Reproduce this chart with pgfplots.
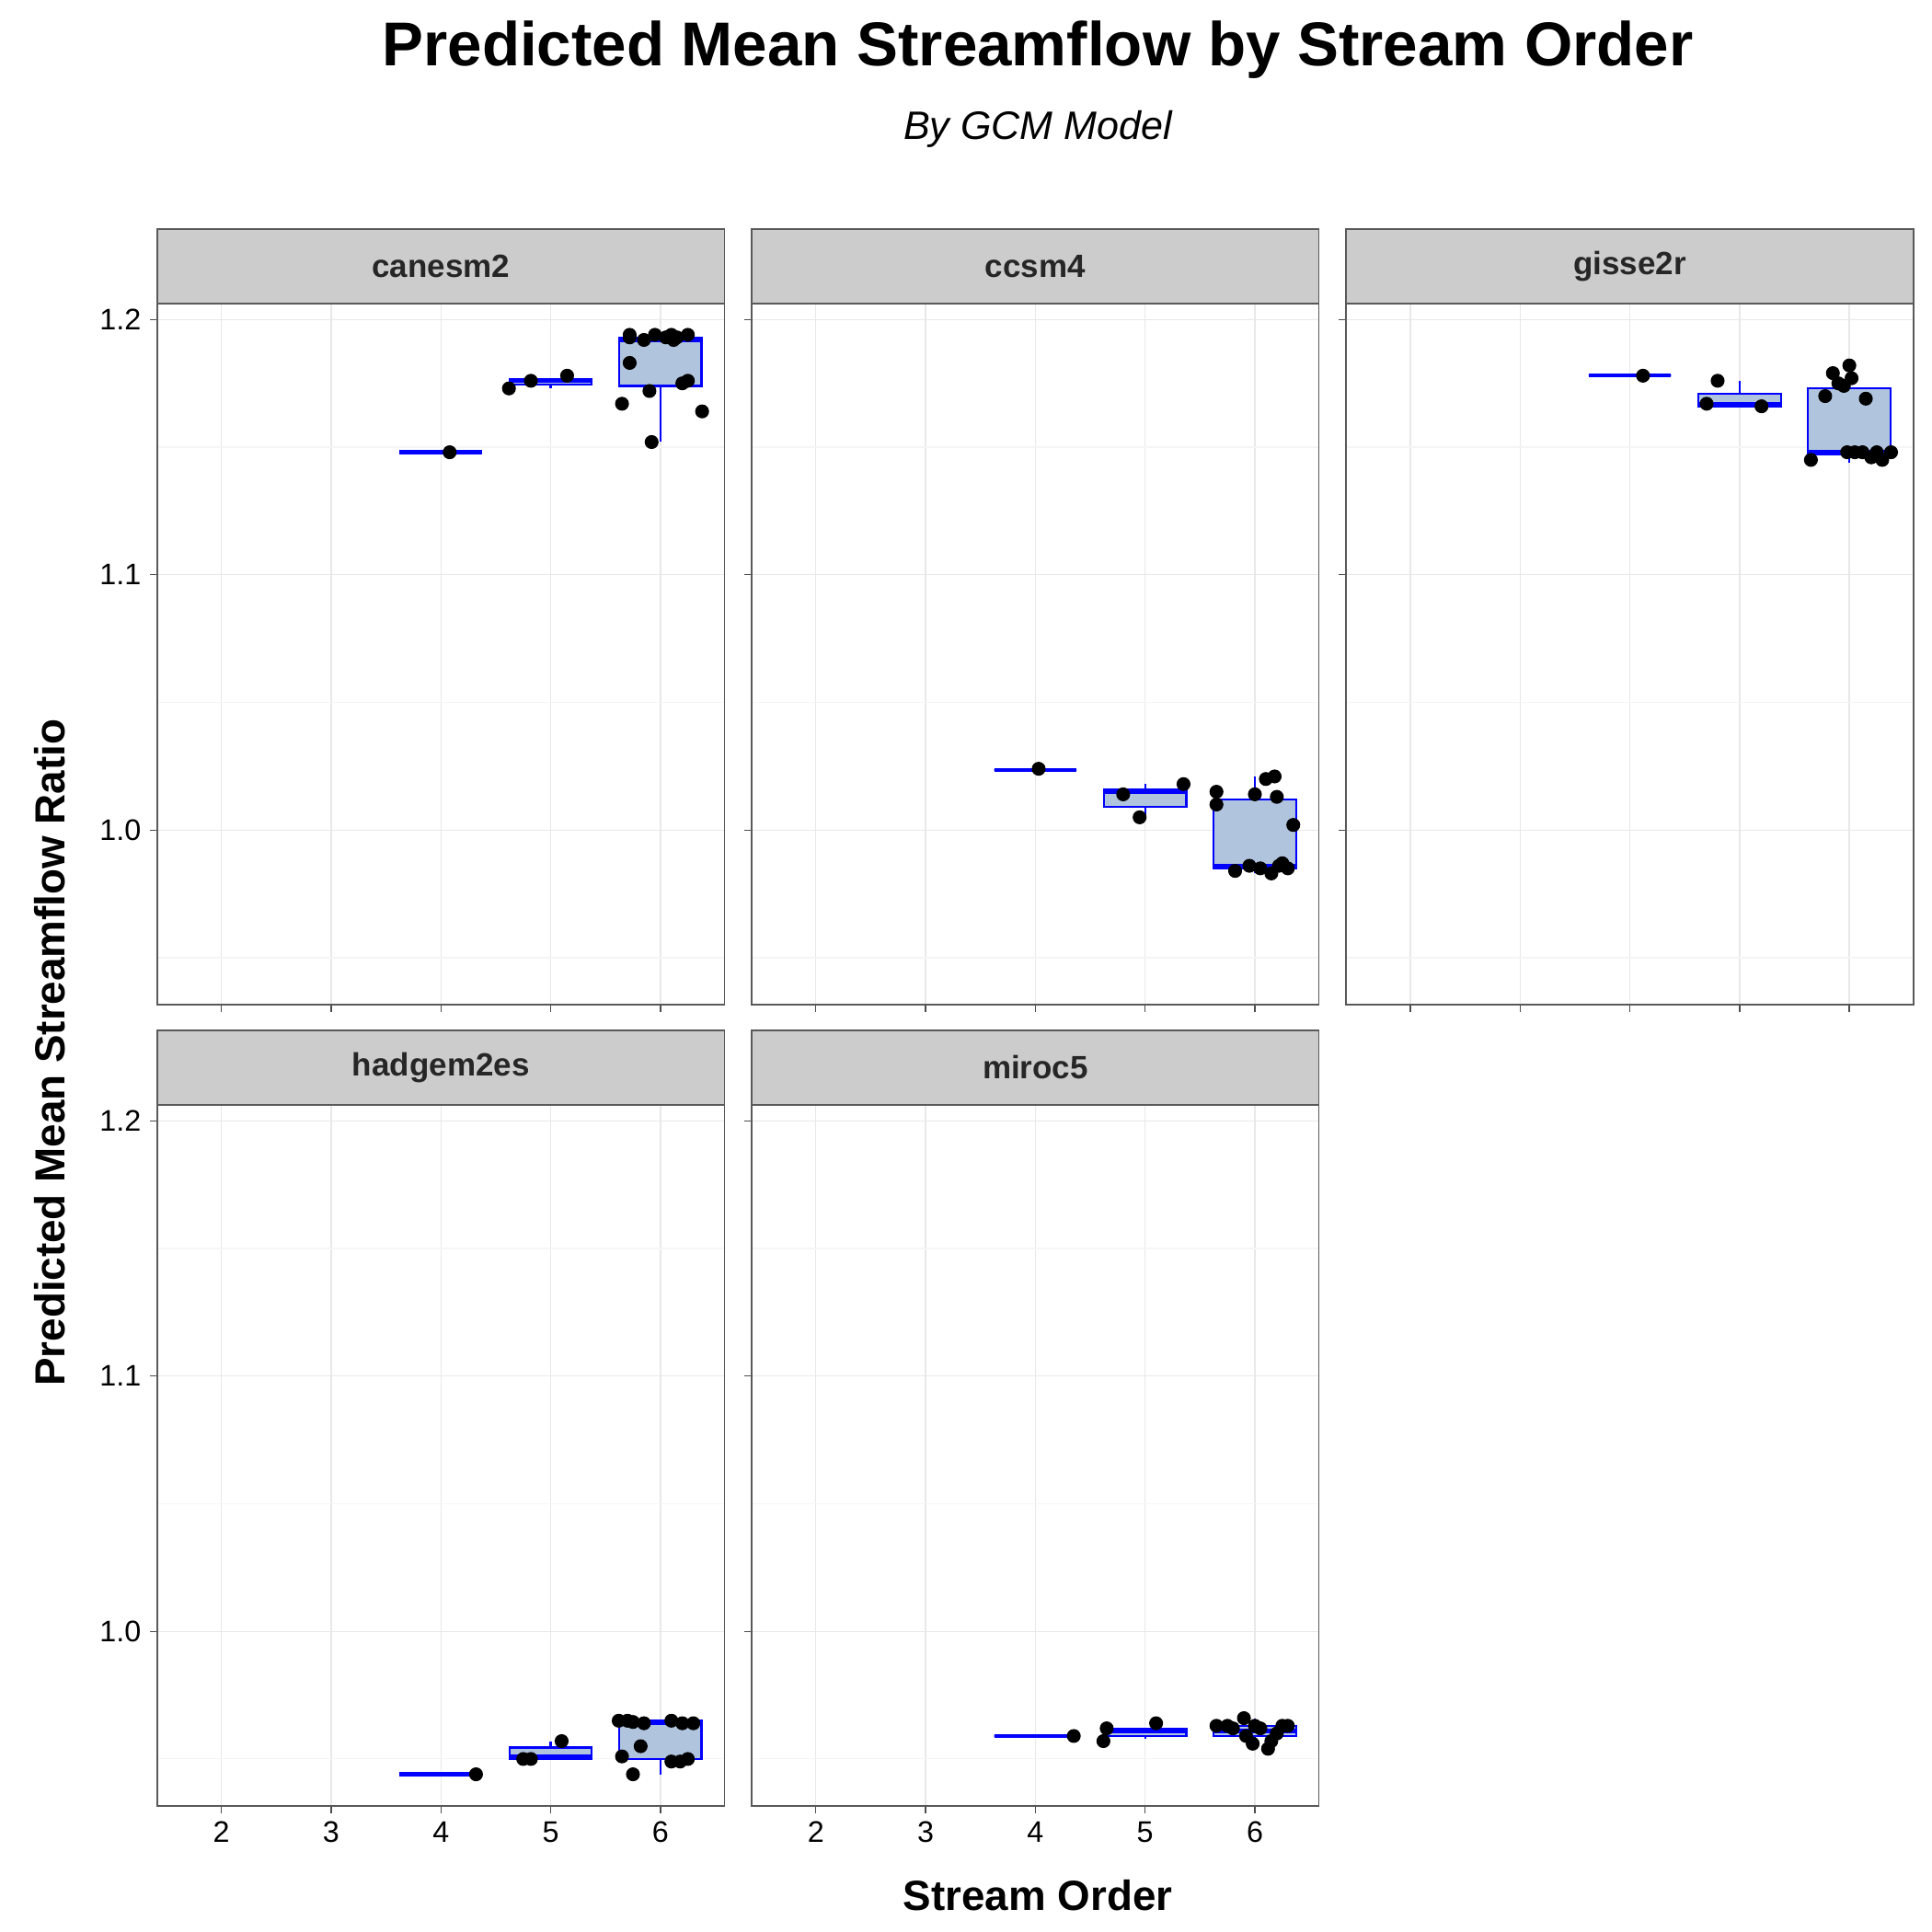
\documentclass[border=0pt]{standalone}
\usepackage{pgfplots}
\pgfplotsset{compat=1.18}
\usepgfplotslibrary{statistics}
\usepackage{fontspec}
\setmainfont{Liberation Sans}
\definecolor{boxfill}{RGB}{176,196,222}
\definecolor{stripg}{RGB}{204,204,204}
\pgfplotsset{panel/.style={
  scale only axis, width=229pt, height=283pt, anchor=south west,
  xmin=1.416, xmax=6.584, ymin=0.9317, ymax=1.2063,
  xtick={2,3,4,5,6}, ytick={1.0,1.1,1.2},
  minor ytick={0.95,1.05,1.15},
  xtick pos=bottom, ytick pos=left,
  yticklabel style={/pgf/number format/.cd,fixed,fixed zerofill,precision=1},
  /pgf/number format/assume math mode=true,
  ticklabel style={font=\fontsize{12}{14}\selectfont},
  grid=both, major grid style={gray!18,line width=0.5pt}, minor grid style={gray!8,line width=0.4pt},
  axis line style={gray!70!black,line width=0.6pt},
  tick style={gray!60!black,line width=0.5pt}, tick align=outside, major tick length=3pt,
  minor tick length=0pt,
  xticklabels={}, yticklabels={},
  boxplot/draw direction=y,
  boxplot/box extend=0.75,
  boxplot/whisker extend=0,
  every boxplot/.style={draw=blue, fill=boxfill, line width=0.8pt},
  boxplot/every median/.style={draw=blue, line width=1.6pt},
},
pts/.style={only marks, mark=*, mark size=2.6pt, black},
xl/.style={xticklabels={2,3,4,5,6}},
yl/.style={yticklabels={1.0,1.1,1.2}}}
\newcommand\strip[2]{%
  \fill[stripg] ([yshift=0.3pt]#1.north west) rectangle ([yshift=30pt]#1.north east);
  \draw[gray!70!black,line width=0.6pt] (#1.north west) -- ([yshift=30pt]#1.north west) -- ([yshift=30pt]#1.north east) -- (#1.north east);
  \node[font=\bfseries\fontsize{13}{15}\selectfont,text=black!85] at ([yshift=15pt]#1.north) {#2};}
\newcommand\bx[6]{\addplot+[boxplot prepared={draw position=#1,lower whisker=#2,lower quartile=#3,median=#4,upper quartile=#5,upper whisker=#6}] coordinates {};}
\begin{document}
\begin{tikzpicture}
\path (0,0) rectangle (780pt,-780pt);
\begin{axis}[panel, yl, name=a1, at={(63.5pt,-405.5pt)}]
\bx{4}{1.148}{1.148}{1.148}{1.148}{1.148}
\bx{5}{1.173}{1.1745}{1.176}{1.1765}{1.1765}
\bx{6}{1.152}{1.174}{1.192}{1.193}{1.194}
\addplot[pts] coordinates {(4.08,1.148)(4.62,1.173)(4.82,1.176)(5.15,1.178)
(5.65,1.167)(5.72,1.183)(5.72,1.193)(5.72,1.194)(5.85,1.192)(5.9,1.172)(5.92,1.152)(5.95,1.194)(6.05,1.193)(6.1,1.194)(6.15,1.193)(6.2,1.175)(6.25,1.176)(6.25,1.194)(6.38,1.164)(6.12,1.192)};
\end{axis}
\strip{a1}{canesm2}
\begin{axis}[panel, name=a2, at={(303.5pt,-405.5pt)}]
\bx{4}{1.0235}{1.0235}{1.0235}{1.0235}{1.0235}
\bx{5}{1.005}{1.009}{1.015}{1.016}{1.018}
\bx{6}{0.983}{0.985}{0.986}{1.012}{1.021}
\addplot[pts] coordinates {(4.03,1.024)(4.8,1.014)(4.95,1.005)(5.35,1.018)
(5.65,1.015)(5.65,1.010)(5.82,0.984)(5.95,0.986)(6.0,1.014)(6.1,1.020)(6.18,1.021)(6.2,1.013)(6.15,0.983)(6.22,0.986)(6.3,0.985)(6.35,1.002)(6.05,0.985)(6.25,0.987)};
\end{axis}
\strip{a2}{ccsm4}
\begin{axis}[panel, name=a3, at={(543.5pt,-405.5pt)}]
\bx{4}{1.178}{1.178}{1.178}{1.178}{1.178}
\bx{5}{1.166}{1.166}{1.167}{1.171}{1.176}
\bx{6}{1.144}{1.147}{1.148}{1.173}{1.182}
\addplot[pts] coordinates {(4.12,1.178)(4.7,1.167)(4.8,1.176)(5.2,1.166)
(5.65,1.145)(5.78,1.170)(5.85,1.179)(5.9,1.175)(5.95,1.174)(5.98,1.148)(6.05,1.148)(6.12,1.148)(6.2,1.146)(6.25,1.148)(6.3,1.145)(6.0,1.182)(6.15,1.169)(6.38,1.148)(6.02,1.177)};
\end{axis}
\strip{a3}{gisse2r}
\begin{axis}[panel, xl, yl, name=a4, at={(63.5pt,-729pt)}]
\bx{4}{0.944}{0.944}{0.944}{0.944}{0.944}
\bx{5}{0.950}{0.950}{0.951}{0.9545}{0.957}
\bx{6}{0.944}{0.950}{0.964}{0.965}{0.965}
\addplot[pts] coordinates {(4.32,0.944)(4.75,0.950)(4.82,0.950)(5.1,0.957)
(5.62,0.965)(5.7,0.965)(5.75,0.9645)(5.85,0.964)(5.65,0.951)(5.75,0.944)(5.82,0.955)(6.1,0.965)(6.2,0.964)(6.3,0.964)(6.1,0.949)(6.18,0.949)(6.25,0.950)};
\end{axis}
\strip{a4}{hadgem2es}
\begin{axis}[panel, xl, name=a5, at={(303.5pt,-729pt)}]
\bx{4}{0.959}{0.959}{0.959}{0.959}{0.959}
\bx{5}{0.958}{0.959}{0.961}{0.962}{0.962}
\bx{6}{0.955}{0.959}{0.961}{0.963}{0.966}
\addplot[pts] coordinates {(4.35,0.959)(4.62,0.957)(4.65,0.962)(5.1,0.964)
(5.65,0.963)(5.75,0.963)(5.8,0.962)(5.9,0.966)(5.92,0.959)(5.98,0.956)(6.0,0.963)(6.05,0.962)(6.12,0.954)(6.15,0.957)(6.25,0.963)(6.3,0.963)(6.2,0.960)};
\end{axis}
\strip{a5}{miroc5}
\node[font=\bfseries\fontsize{25}{28}\selectfont] at (419pt,-20pt) {Predicted Mean Streamflow by Stream Order};
\node[font=\itshape\fontsize{16}{18}\selectfont] at (419pt,-52pt) {By GCM Model};
\node[font=\bfseries\fontsize{17}{19}\selectfont] at (419pt,-765pt) {Stream Order};
\node[font=\bfseries\fontsize{17}{19}\selectfont,rotate=90] at (20pt,-425pt) {Predicted Mean Streamflow Ratio};
\end{tikzpicture}
\end{document}
